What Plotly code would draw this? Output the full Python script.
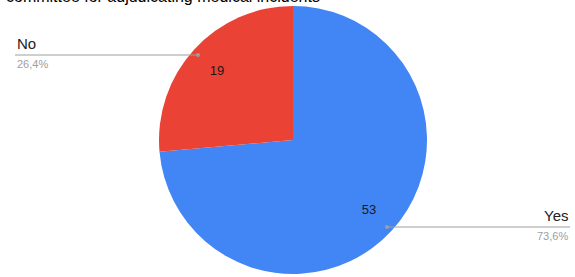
import plotly.graph_objects as go

labels = ["Yes", "No"]
values = [53, 19]
colors = ["#4285F4", "#EA4335"]
title_text = "committee for adjudicating medical incidents"

W, H = 575, 277
total = sum(values)
pcts = [f"{v / total * 100:.1f}".replace(".", ",") + "%" for v in values]
dom = dict(x=[159 / W, 427 / W], y=[3 / H, 271 / H])

fig = go.Figure()
fig.add_trace(go.Pie(
    labels=labels, values=values, sort=False, direction="clockwise", rotation=0,
    marker=dict(colors=colors, line=dict(width=0)),
    textinfo="none", domain=dom,
    hoverinfo="label+value+percent", showlegend=False,
))
# transparent ring used only to place the value labels further out
fig.add_trace(go.Pie(
    labels=labels, values=values, sort=False, direction="clockwise", rotation=0,
    hole=0.54,
    marker=dict(colors=["rgba(0,0,0,0)"] * len(values), line=dict(width=0)),
    textinfo="value", textposition="inside", insidetextorientation="horizontal",
    textfont=dict(family="Liberation Sans, Arial", size=13, color="#1a1a1a"),
    domain=dom, hoverinfo="skip", showlegend=False,
))

def px(x):
    return x / W

def py(y):
    return 1 - y / H

shapes = []
annotations = []
gray = "#9e9e9e"
leaders = [
    (1, 15, 198, 55, "left"),
    (0, 387, 570, 227, "right"),
]
for idx, x0, x1, y, side in leaders:
    shapes.append(dict(type="line", xref="paper", yref="paper",
                       x0=px(x0), x1=px(x1), y0=py(y), y1=py(y),
                       line=dict(color=gray, width=1)))
    dotx = x1 if side == "left" else x0
    shapes.append(dict(type="circle", xref="paper", yref="paper",
                       x0=px(dotx - 2), x1=px(dotx + 2), y0=py(y + 2), y1=py(y - 2),
                       fillcolor=gray, line=dict(width=0)))
    tx = x0 if side == "left" else x1
    annotations.append(dict(text=labels[idx], xref="paper", yref="paper",
                            x=px(tx), y=py(y - 1), xanchor=side, yanchor="bottom",
                            showarrow=False,
                            font=dict(family="Liberation Sans, Arial", size=15, color="#222222")))
    annotations.append(dict(text=pcts[idx], xref="paper", yref="paper",
                            x=px(tx), y=py(y + 1), xanchor=side, yanchor="top",
                            showarrow=False,
                            font=dict(family="Liberation Sans, Arial", size=11, color=gray)))

annotations.append(dict(text=title_text, xref="paper", yref="paper",
                        x=px(4), y=py(7), xanchor="left", yanchor="bottom",
                        showarrow=False,
                        font=dict(family="Liberation Sans, Arial", size=16, color="#000000")))

fig.update_layout(
    width=W, height=H, margin=dict(l=0, r=0, t=0, b=0),
    paper_bgcolor="white", plot_bgcolor="white",
    shapes=shapes, annotations=annotations,
)

fig.write_html("out.html", config={"displayModeBar": False},
               post_script="document.body.style.margin='0';")
